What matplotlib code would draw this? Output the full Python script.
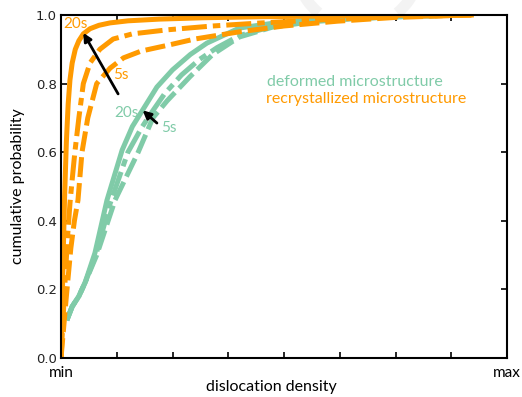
import numpy as np
import matplotlib
matplotlib.use('Agg')
import matplotlib.pyplot as plt
from matplotlib.patches import Arc

# colours
ORANGE = '#FF9A00'
GREEN = '#80CBA8'

# ---- recrystallized microstructure (orange) ----
rx20_t = [0, 0.004, 0.008, 0.012, 0.016, 0.02, 0.025, 0.032, 0.04, 0.05, 0.065, 0.085, 0.11, 0.15, 0.22, 0.32, 0.45, 0.6, 0.75, 0.92]
rx20_p = [0, 0.25, 0.47, 0.63, 0.74, 0.81, 0.86, 0.9, 0.925, 0.945, 0.96, 0.97, 0.977, 0.983, 0.988, 0.992, 0.995, 0.997, 0.999, 1.0]

rx10_t = [0, 0.008, 0.015, 0.02, 0.025, 0.031, 0.04, 0.05, 0.065, 0.087, 0.117, 0.16, 0.24, 0.34, 0.45, 0.6, 0.75, 0.92]
rx10_p = [0, 0.2, 0.36, 0.45, 0.52, 0.6, 0.7, 0.8, 0.86, 0.9, 0.93, 0.945, 0.957, 0.968, 0.977, 0.987, 0.995, 1.0]

rx5_t = [0, 0.012, 0.022, 0.03, 0.038, 0.047, 0.06, 0.08, 0.11, 0.14, 0.18, 0.24, 0.3, 0.4, 0.5, 0.62, 0.75, 0.92]
rx5_p = [0, 0.18, 0.32, 0.4, 0.46, 0.6, 0.7, 0.8, 0.845, 0.875, 0.895, 0.912, 0.93, 0.951, 0.968, 0.982, 0.993, 1.0]

# ---- deformed microstructure (green) ----
df20_t = [0.013, 0.025, 0.04, 0.054, 0.076, 0.103, 0.137, 0.16, 0.184, 0.215, 0.25, 0.29, 0.327, 0.4, 0.475, 0.56, 0.66, 0.78, 0.9]
df20_p = [0.11, 0.15, 0.18, 0.22, 0.306, 0.46, 0.606, 0.675, 0.725, 0.79, 0.84, 0.885, 0.918, 0.962, 0.976, 0.986, 0.992, 0.997, 1.0]

df10_t = [0.013, 0.025, 0.04, 0.054, 0.078, 0.11, 0.15, 0.18, 0.2, 0.232, 0.27, 0.31, 0.35, 0.4, 0.475, 0.56, 0.66, 0.78, 0.9]
df10_p = [0.11, 0.15, 0.18, 0.22, 0.3, 0.45, 0.6, 0.67, 0.71, 0.77, 0.825, 0.87, 0.905, 0.94, 0.967, 0.982, 0.99, 0.996, 1.0]

df5_t = [0.013, 0.025, 0.04, 0.054, 0.08, 0.121, 0.173, 0.206, 0.238, 0.289, 0.34, 0.4, 0.475, 0.56, 0.66, 0.78, 0.9]
df5_p = [0.11, 0.15, 0.18, 0.22, 0.3, 0.46, 0.6, 0.7, 0.75, 0.82, 0.885, 0.936, 0.965, 0.98, 0.99, 0.996, 1.0]

y_ticks = [0.0, 0.2, 0.4, 0.6, 0.8, 1.0]
x_ticklabels = ['min', 'max']

fig = plt.figure(figsize=(5.22, 3.97), dpi=100)
ax = fig.add_axes([0.1169, 0.0982, 0.8544, 0.864])

# faint watermark arc at top (behind the axes)
for a1, a2 in [(203, 238), (302, 337)]:
    fig.patches.append(Arc((358 / 522, 1 + 35 / 397), 124 / 522, 124 / 397,
                           theta1=a1, theta2=a2, transform=fig.transFigure,
                           color='#F3F3F3', lw=8, zorder=-5))

lw = 3.6
ax.plot(df20_t, df20_p, color=GREEN, lw=lw, solid_capstyle='butt')
ax.plot(df10_t, df10_p, color=GREEN, lw=lw, dashes=(5, 1.2, 1.5, 1.2))
ax.plot(df5_t, df5_p, color=GREEN, lw=lw, dashes=(4, 1.2))

ax.plot(rx20_t, rx20_p, color=ORANGE, lw=lw)
ax.plot(rx10_t, rx10_p, color=ORANGE, lw=lw, dashes=(5, 1.2, 1.5, 1.2))
ax.plot(rx5_t, rx5_p, color=ORANGE, lw=lw, dashes=(4, 1.2))

# arrows + time labels
arw = dict(arrowstyle='-|>', color='black', lw=2, mutation_scale=12, shrinkA=0, shrinkB=0)
ax.annotate('', xy=(0.05, 0.948), xytext=(0.128, 0.77), arrowprops=arw)
ax.annotate('', xy=(0.183, 0.722), xytext=(0.215, 0.685), arrowprops=arw)

tf = dict(family='Lato', fontsize=11)
ax.text(0.004, 0.975, '20s', color=ORANGE, ha='left', va='center', **tf)
ax.text(0.117, 0.825, '5s', color=ORANGE, ha='left', va='center', **tf)
ax.text(0.12, 0.715, '20s', color=GREEN, ha='left', va='center', **tf)
ax.text(0.224, 0.67, '5s', color=GREEN, ha='left', va='center', **tf)

lf = dict(family='Lato', fontsize=11.5)
ax.text(0.462, 0.805, 'deformed microstructure', color=GREEN, ha='left', va='center', **lf)
ax.text(0.46, 0.755, 'recrystallized microstructure', color=ORANGE, ha='left', va='center', **lf)

ax.set_xlim(0, 1)
ax.set_ylim(0, 1)
ax.set_xticks(np.linspace(0, 1, 9))
ax.set_xticklabels([x_ticklabels[0]] + [''] * 7 + [x_ticklabels[1]], family='Lato', fontsize=11)
ax.set_yticks(y_ticks)
ax.set_yticklabels(['%.1f' % v for v in y_ticks], fontsize=9.5, color='#222222')
ax.tick_params(direction='in', top=True, right=True, length=4, width=1.2, pad=3)
ax.tick_params(axis='x', pad=6)
for s in ax.spines.values():
    s.set_linewidth(1.5)

ax.set_xlabel('dislocation density', family='Lato', fontsize=11.5)
ax.xaxis.set_label_coords(0.472, -0.065)
ax.set_ylabel('cumulative probability', family='Lato', fontsize=11.5, labelpad=8)

fig.savefig('out.png', dpi=100)
